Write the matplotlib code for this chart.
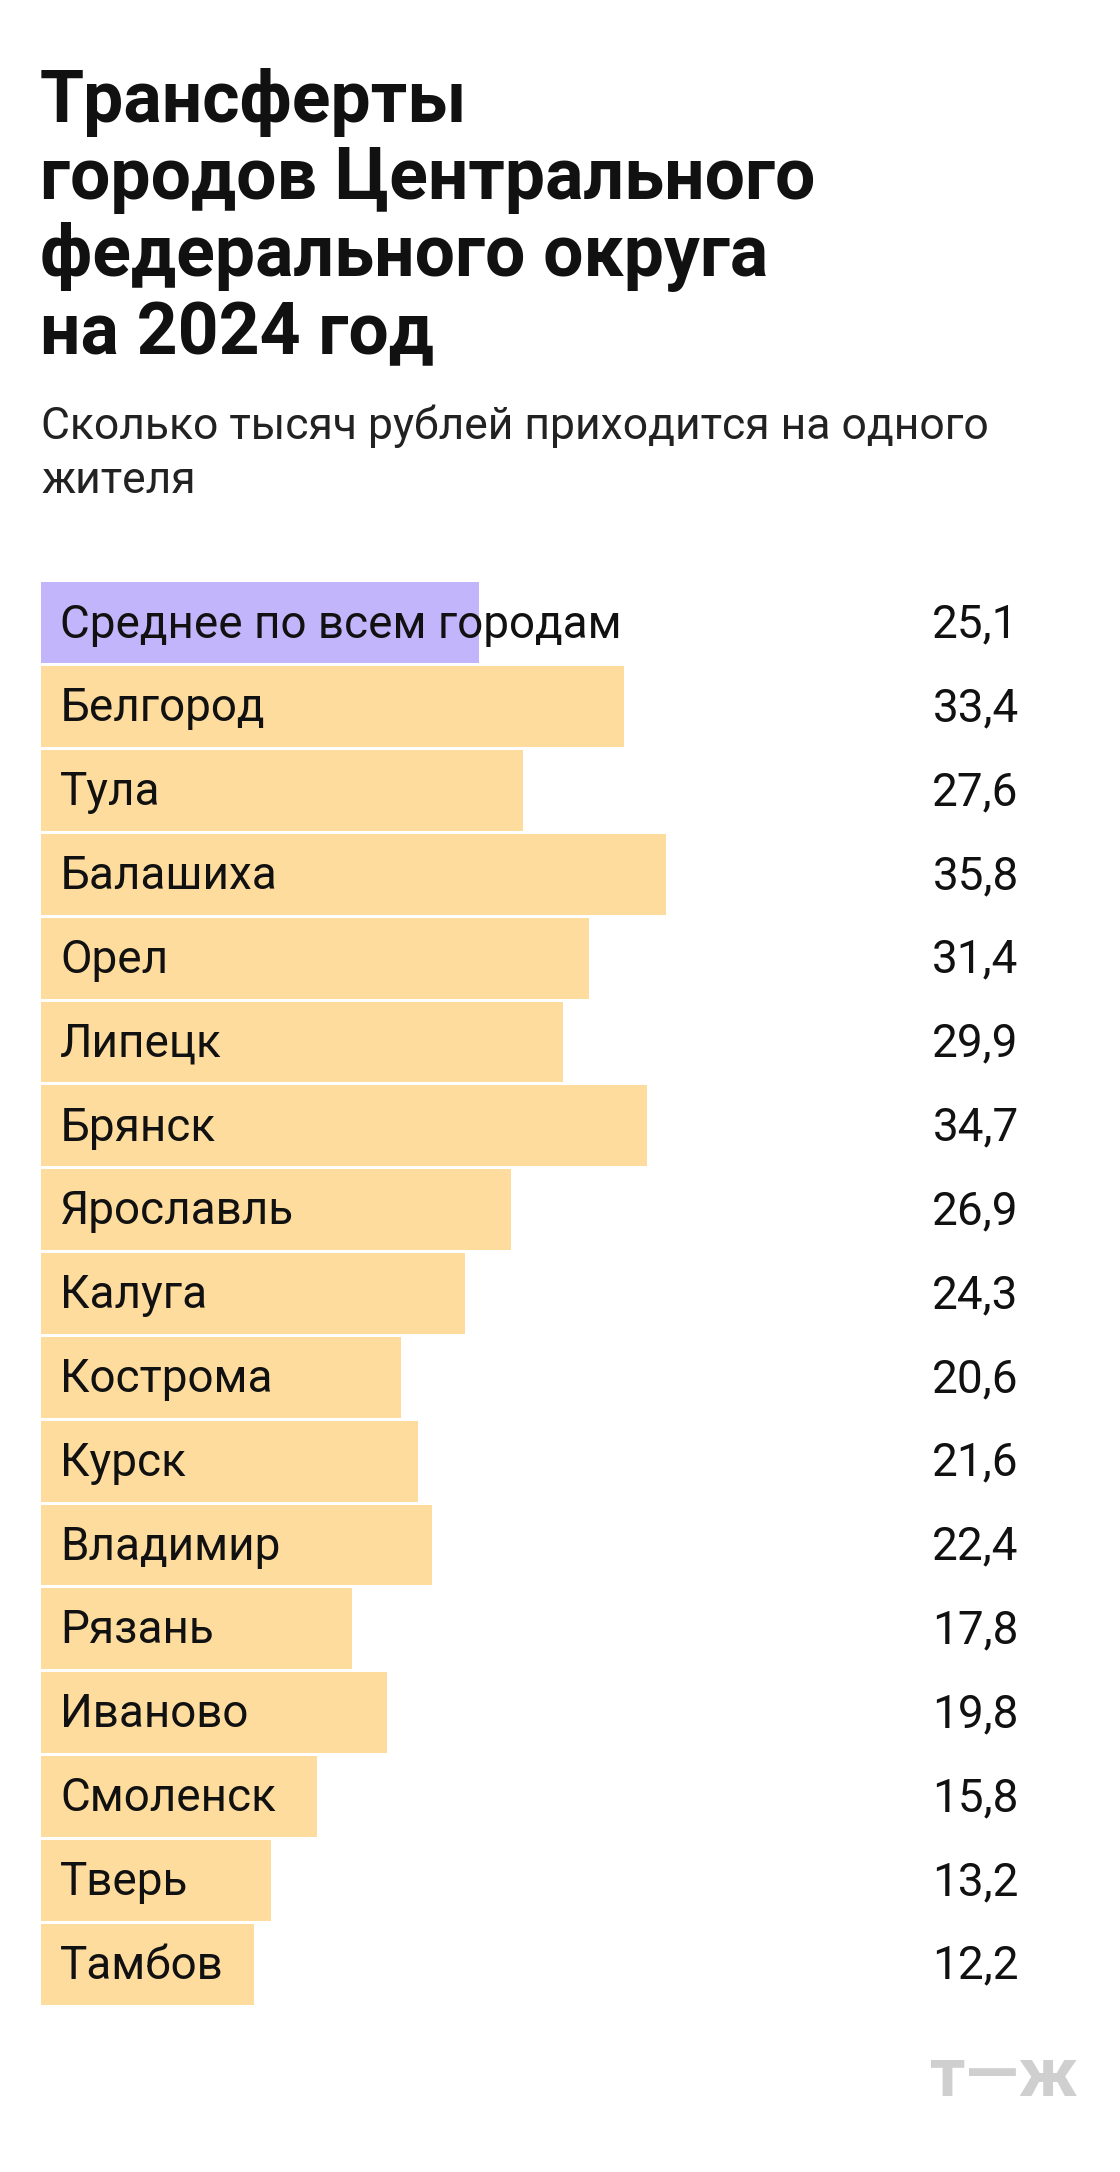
import matplotlib
matplotlib.use("Agg")
import matplotlib.pyplot as plt

plt.rcParams['font.family'] = ['Roboto', 'DejaVu Sans']

cities = ["Среднее по всем городам", "Белгород", "Тула", "Балашиха", "Орел", "Липецк",
          "Брянск", "Ярославль", "Калуга", "Кострома", "Курск", "Владимир", "Рязань",
          "Иваново", "Смоленск", "Тверь", "Тамбов"]
values = [25.1, 33.4, 27.6, 35.8, 31.4, 29.9, 34.7, 26.9, 24.3, 20.6, 21.6, 22.4,
          17.8, 19.8, 15.8, 13.2, 12.2]
labels = ["25,1", "33,4", "27,6", "35,8", "31,4", "29,9", "34,7", "26,9", "24,3", "20,6",
          "21,6", "22,4", "17,8", "19,8", "15,8", "13,2", "12,2"]

W, H = 1120, 2172
fig = plt.figure(figsize=(W / 100, H / 100), dpi=100)
fig.patch.set_facecolor("white")

def fx(px):
    return px / W

def fy(py):
    return 1 - py / H

fig.text(fx(40), fy(68), "Трансферты\nгородов Центрального\nфедерального округа\nна 2024 год",
         fontsize=51.5, fontweight="bold", va="top", ha="left", linespacing=1.15, color="#111111")
fig.text(fx(41), fy(405), "Сколько тысяч рублей приходится на одного\nжителя",
         fontsize=32, va="top", ha="left", linespacing=1.35, color="#222222")

# bars
top, bottom = 581, 2006
ax = fig.add_axes([fx(41), fy(bottom), fx(W - 41), (bottom - top) / H])
n = len(cities)
colors = ["#c2b5fb"] + ["#fddc9e"] * (n - 1)
ax.barh(range(n), values, height=0.965, color=colors, align="center")
ax.set_ylim(n - 0.5, -0.5)
ax.set_xlim(0, 61.8)
ax.axis("off")
for i, (c, l) in enumerate(zip(cities, labels)):
    ax.text(1.1, i + 0.02, c, va="center", ha="left", fontsize=33, color="#111111")
    ax.text(56.0, i + 0.02, l, va="center", ha="right", fontsize=33, color="#111111")

fig.text(fx(1078), fy(2077), "т—ж", fontsize=50, fontweight="bold", color="#cfcfcf",
         ha="right", va="center")

fig.savefig("out.png", dpi=100)
